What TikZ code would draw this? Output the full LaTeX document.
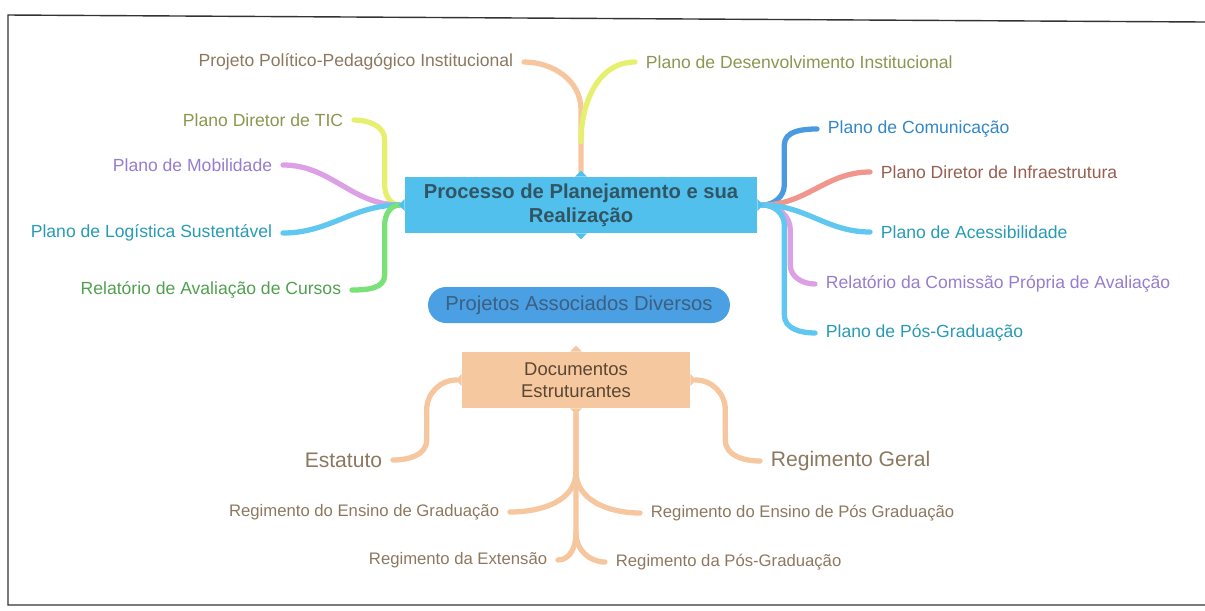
\documentclass[tikz,border=0pt]{standalone}
\usepackage{fontspec}
\setmainfont{Liberation Sans}
\usepackage{xcolor}

\definecolor{procblue}{RGB}{82,192,236}
\definecolor{projblue}{RGB}{74,160,226}
\definecolor{docpeach}{RGB}{246,200,160}
\definecolor{lnorange}{RGB}{246,198,158}
\definecolor{lnyellow}{RGB}{230,240,110}
\definecolor{lnpink}{RGB}{220,160,228}
\definecolor{lncyan}{RGB}{96,200,240}
\definecolor{lngreen}{RGB}{120,225,120}
\definecolor{lnblue}{RGB}{74,154,226}
\definecolor{lnsalmon}{RGB}{240,150,140}
\definecolor{txbrown}{RGB}{140,120,95}
\definecolor{txolive}{RGB}{140,150,80}
\definecolor{txpurple}{RGB}{150,125,205}
\definecolor{txteal}{RGB}{40,155,180}
\definecolor{txgreen}{RGB}{80,160,80}
\definecolor{txblue}{RGB}{50,135,200}
\definecolor{txred}{RGB}{150,95,80}

\begin{document}
\begin{tikzpicture}[x=0.02cm,y=-0.02cm,
	lbl/.style={font=\fontsize{10}{12}\selectfont, inner xsep=6pt, inner ysep=1pt},
	lblL/.style={lbl, anchor=east},
	lblR/.style={lbl, anchor=west},
	lblS/.style={font=\fontsize{9.5}{11}\selectfont},
	lblB/.style={font=\fontsize{12}{14}\selectfont},
	lnk/.style={line width=3pt, line cap=round}]
	
	\useasboundingbox (0,0) rectangle (1205,610);
	\draw [line width=0.8pt, black!80] (1205,22) -- (8,15) -- (8,605) -- (1205,605);
	
	\node [fill=procblue, minimum width=7.04cm, minimum height=1.12cm, align=center,
		text={rgb,255:red,50;green,85;blue,100}, font=\bfseries\fontsize{11.5}{13.5}\selectfont]
		(proc) at (581,205) {Processo de Planejamento e sua\\Realização};
	\node [fill=projblue, minimum width=6.04cm, minimum height=0.72cm, rounded corners=0.36cm,
		text={rgb,255:red,60;green,95;blue,130}, font=\fontsize{11.5}{13.5}\selectfont]
		(proj) at (579,305) {Projetos Associados Diversos};
	\node [fill=docpeach, minimum width=4.56cm, minimum height=1.12cm, align=center,
		text={rgb,255:red,90;green,70;blue,50}, font=\fontsize{10.5}{12.5}\selectfont]
		(doc) at (576,380) {Documentos\\Estruturantes};
	
	\node [lblL, text=txbrown] (ppi) at (524,62) {Projeto Político-Pedagógico Institucional};
	\node [lblR, text=txolive] (pdi) at (635,62) {Plano de Desenvolvimento Institucional};
	\node [lblL, text=txolive] (tic) at (354,120) {Plano Diretor de TIC};
	\node [lblL, text=txpurple] (mob) at (283,165) {Plano de Mobilidade};
	\node [lblL, text=txteal] (lgs) at (283,233) {Plano de Logística Sustentável};
	\node [lblL, text=txgreen] (rac) at (352,290) {Relatório de Avaliação de Cursos};
	\node [lblR, text=txblue] (com) at (817,129) {Plano de Comunicação};
	\node [lblR, text=txred] (inf) at (870,172) {Plano Diretor de Infraestrutura};
	\node [lblR, text=txteal] (ace) at (870,232) {Plano de Acessibilidade};
	\node [lblR, text=txpurple] (cpa) at (815,284) {Relatório da Comissão Própria de Avaliação};
	\node [lblR, text=txteal] (pos) at (815,333) {Plano de Pós-Graduação};
	
	\node [lblL, lblB, text=txbrown] (est) at (393,460) {Estatuto};
	\node [lblR, lblB, text=txbrown] (rge) at (760,461) {Regimento Geral};
	\node [lblL, lblS, text=txbrown] (reg) at (510,512) {Regimento do Ensino de Graduação};
	\node [lblR, lblS, text=txbrown] (rep) at (640,513) {Regimento do Ensino de Pós Graduação};
	\node [lblL, lblS, text=txbrown] (rex) at (558,560) {Regimento da Extensão};
	\node [lblR, lblS, text=txbrown] (rpg) at (605,562) {Regimento da Pós-Graduação};
	
	\coordinate (pt) at ([yshift=0.1cm]proc.north);
	\coordinate (pl) at ([xshift=-0.1cm]proc.west);
	\coordinate (pr) at ([xshift=0.1cm]proc.east);
	\coordinate (dl) at ([xshift=-0.1cm]doc.west);
	\coordinate (dr) at ([xshift=0.1cm]doc.east);
	\coordinate (db) at ([yshift=-0.1cm]doc.south);
	
	\draw [lnk, lnorange] (pt) -- ++(0,-62) to[out=90,in=0] (ppi.east);
	\draw [lnk, lnyellow] (pt) ++(0,-30) to[out=90,in=180] (pdi.west);
	
	\draw [lnk, lnyellow] (pl) to[out=180,in=-90] ++(-15,-20) -- ++(0,-45) to[out=90,in=0] (tic.east);
	\draw [lnk, lnpink] (pl) to[out=180,in=0] (mob.east);
	\draw [lnk, lncyan] (pl) to[out=180,in=0] (lgs.east);
	\draw [lnk, lngreen] (pl) to[out=180,in=90] ++(-15,20) -- ++(0,50) to[out=-90,in=0] (rac.east);
	
	\draw [lnk, lnblue] (pr) to[out=0,in=-90] ++(22,-20) -- ++(0,-40) to[out=90,in=180] (com.west);
	\draw [lnk, lnsalmon] (pr) to[out=0,in=180] (inf.west);
	\draw [lnk, lnpink] (pr) to[out=0,in=90] ++(28,25) -- ++(0,35) to[out=-90,in=180] (cpa.west);
	\draw [lnk, lncyan] (pr) to[out=0,in=180] (ace.west);
	\draw [lnk, lncyan] (pr) to[out=0,in=90] ++(22,20) -- ++(0,90) to[out=-90,in=180] (pos.west);
	
	\draw [lnk, lnorange] (dl) to[out=180,in=90] ++(-30,30) -- ++(0,30) to[out=-90,in=0] (est.east);
	\draw [lnk, lnorange] (dr) to[out=0,in=90] ++(30,30) -- ++(0,30) to[out=-90,in=180] (rge.west);
	\draw [lnk, lnorange] (db) -- ++(0,58) to[out=-90,in=0] (reg.east);
	\draw [lnk, lnorange] (db) ++(0,58) to[out=-90,in=180] (rep.west);
	\draw [lnk, lnorange] (db) -- ++(0,120) to[out=-90,in=0] (rex.east);
	\draw [lnk, lnorange] (db) ++(0,120) to[out=-90,in=180] (rpg.west);
	
	\foreach \a/\r in {west/0, north/-90, east/180, south/90} {
		\fill [procblue, shift={(proc.\a)}, rotate=\r] (0,-6) -- (-6,0) -- (0,6) -- cycle;
		\fill [docpeach, shift={(doc.\a)}, rotate=\r] (0,-6) -- (-6,0) -- (0,6) -- cycle;
	}
	
\end{tikzpicture}
\end{document}
